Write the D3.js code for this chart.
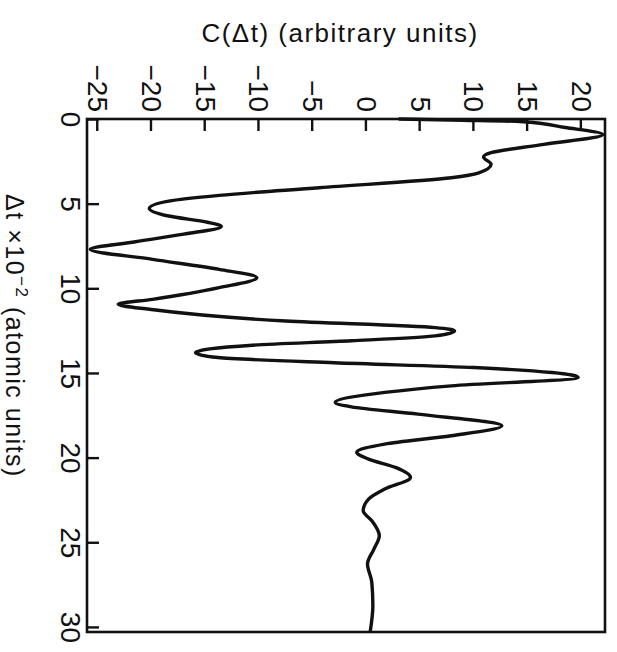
<!DOCTYPE html>
<html>
<head>
<meta charset="utf-8">
<script src="https://cdn.jsdelivr.net/npm/d3@7"></script>
<style>
  body { margin: 0; background: #fff; }
  text { font-family: "Liberation Sans", Arial, sans-serif; fill: #111; }
</style>
</head>
<body>
<script>
// values: dt (x10^-2 atomic units) and C(dt)
const dtValues = [0, 0.07, 0.15, 0.5, 0.92, 1.5, 1.99, 2.24, 2.68, 3.2, 3.47, 4.06, 4.51, 4.85, 5.28, 5.73, 6.1, 6.35, 6.8, 7.25, 7.7,
  8.29, 8.88, 9.37, 9.96, 10.65, 10.94, 11.24, 11.93, 12.32, 12.52, 12.81, 13.1, 13.36, 13.8, 14.09, 14.4, 14.68, 15.27,
  15.76, 16.15, 16.74, 17.0, 17.43, 18.12, 18.71, 19.2, 19.69, 20.09, 20.58, 21.17, 21.86, 22.45, 23.14, 23.73, 24.61,
  25.4, 26.28, 27.36, 28.74, 30.3];
const cValues = [3, 9, 14.3, 18.5, 22.0, 16.5, 11.6, 10.9, 11.6, 10.4, 7.9, -4.4, -13.7, -18.4, -20.2, -18.4, -14.8, -13.5, -17.0, -21.5, -25.7,
  -19.9, -13.7, -10.2, -13.7, -19.9, -23.1, -20.2, -7.5, 6.4, 8.2, 6.4, -1.4, -10.6, -15.9, -13.8, -3, 10, 19.7,
  7.9, 1.7, -2.9, -1.4, 4.8, 12.6, 7.9, 1.7, -0.9, 0.2, 2.7, 4.1, 1.7, 0.2, -0.3, 0.5, 1.2,
  0.7, 0.1, 0.5, 0.6, 0.35];
const dtTicks = [0, 5, 10, 15, 20, 25, 30];
const cTicks = [-25, -20, -15, -10, -5, 0, 5, 10, 15, 20];

const w = 617;
const h = 652;
// the plot is built upright and then turned 90 degrees clockwise, like the printed figure
const plotLen = 513; // length of the dt axis
const plotHt = 518;  // length of the C axis
const originX = 605;
const originY = 119;

const svg = d3.select('body')
  .append('svg')
  .attr('width', w)
  .attr('height', h);

const g = svg.append('g')
  .attr('transform', `translate(${originX}, ${originY}) rotate(90)`);

const xScale = d3.scaleLinear().domain([0, 30.3]).range([0, plotLen]);
const yScale = d3.scaleLinear().domain([-26, 22.2]).range([plotHt, 0]);

//frame
g.append('rect')
  .attr('x', 0)
  .attr('y', 0)
  .attr('width', plotLen)
  .attr('height', plotHt)
  .attr('fill', 'none')
  .attr('stroke', '#111')
  .attr('stroke-width', 2.6);

//dt axis (ends up on the left)
const xAxis = d3.axisBottom(xScale)
  .tickValues(dtTicks)
  .tickSizeInner(-12)
  .tickSizeOuter(0)
  .tickPadding(6);
const gx = g.append('g')
  .attr('transform', `translate(0, ${plotHt})`)
  .call(xAxis);

//C axis (ends up on the top)
const yAxis = d3.axisLeft(yScale)
  .tickValues(cTicks)
  .tickSizeInner(-12)
  .tickSizeOuter(0)
  .tickPadding(7);
const gy = g.append('g').call(yAxis);

[gx, gy].forEach((ax) => {
  ax.select('.domain').remove();
  ax.selectAll('.tick line').attr('stroke', '#111').attr('stroke-width', 2.4);
  ax.selectAll('.tick text')
    .attr('fill', '#111')
    .style('font-size', '28px')
    .style('font-family', '"Liberation Sans", Arial, sans-serif');
});

//the curve
const points = dtValues.map((d, i) => [d, cValues[i]]);
const line = d3.line()
  .x((d) => xScale(d[0]))
  .y((d) => yScale(d[1]))
  .curve(d3.curveMonotoneX);

g.append('path')
  .datum(points)
  .attr('d', line)
  .attr('fill', 'none')
  .attr('stroke', '#111')
  .attr('stroke-width', 3.4)
  .attr('stroke-linejoin', 'round');

//dt label, rotated with the plot
const dtLabel = g.append('text')
  .attr('x', 217)
  .attr('y', 599)
  .attr('text-anchor', 'middle')
  .style('font-size', '25px')
  .style('letter-spacing', '1.5px');
dtLabel.append('tspan').text('\u0394t \u00d710');
dtLabel.append('tspan').attr('dy', -10).style('font-size', '17px').text('\u22122');
dtLabel.append('tspan').attr('dy', 10).text(' (atomic units)');

//C label, upright on top
svg.append('text')
  .attr('x', 340)
  .attr('y', 42)
  .attr('text-anchor', 'middle')
  .style('font-size', '26px')
  .style('letter-spacing', '1.5px')
  .text('C(\u0394t)  (arbitrary units)');
</script>
</body>
</html>
